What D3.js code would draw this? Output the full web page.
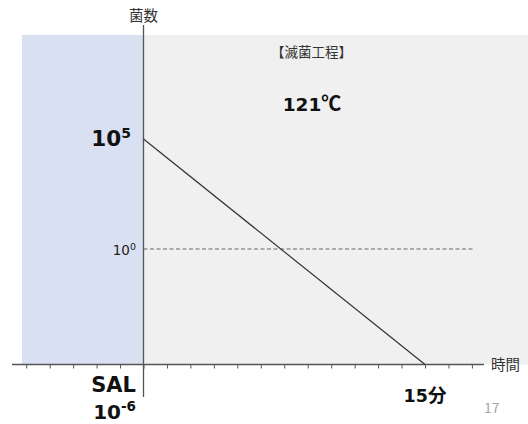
<!DOCTYPE html>
<html><head><meta charset="utf-8">
<script src="https://cdn.jsdelivr.net/npm/d3@7"></script>
<style>
html,body{margin:0;padding:0;background:#fff;}
svg{display:block;font-family:"Noto Sans CJK JP","Noto Sans",sans-serif;}
.lat{font-family:"DejaVu Sans","Noto Sans CJK JP",sans-serif;}
</style></head>
<body>
<svg id="c" width="528" height="424"></svg>
<script>
// ---- data ----
const timeMin = [0, 15];            // minutes
const bacteriaCount = [1e5, 1e-6];  // count at start / at SAL
const referenceLevel = [1];         // 10^0 dashed line
const xTickValues = d3.range(-5, 15).map(i => i * 1.25);
const yAxisTitle = "菌数";
const xAxisTitle = "時間";
const processTitle = "【滅菌工程】";
const temperature = ["121", "℃"];
const endLabel = ["15", "分"];
const pageNumber = "17";

const svg = d3.select("#c");
const x = d3.scaleLinear().domain([0, 15]).range([143.5, 425]);
const y = d3.scaleLog().domain([1e-6, 1, 1e5]).range([364.5, 249, 139]);

// backgrounds
svg.append("rect").attr("x", 22).attr("y", 35).attr("width", x(0) - 22).attr("height", y(1e-6) - 35).attr("fill", "#d9e0f1");
svg.append("rect").attr("x", x(0)).attr("y", 35).attr("width", 528 - x(0)).attr("height", y(1e-6) - 35).attr("fill", "#f0f0f0");

// x axis
const xAxis = d3.axisBottom(x).tickValues(xTickValues).tickSize(4).tickFormat("");
const gx = svg.append("g").attr("transform", `translate(0,${y(1e-6)})`).call(xAxis);
gx.select(".domain").remove();
gx.selectAll(".tick line").attr("stroke", "#555").attr("stroke-width", 1);
svg.append("line").attr("x1", 12).attr("x2", 484).attr("y1", y(1e-6)).attr("y2", y(1e-6))
  .attr("stroke", "#555").attr("stroke-width", 1.3);

// y axis
svg.append("line").attr("x1", x(0)).attr("x2", x(0)).attr("y1", 25).attr("y2", 397)
  .attr("stroke", "#555").attr("stroke-width", 1.3);

// reference dashed line
svg.selectAll(".ref").data(referenceLevel).enter().append("line")
  .attr("x1", x(0)).attr("x2", 474).attr("y1", d => y(d)).attr("y2", d => y(d))
  .attr("stroke", "#666").attr("stroke-width", 1).attr("stroke-dasharray", "4,2.5");

// decay line
const pts = timeMin.map((t, i) => [t, bacteriaCount[i]]);
svg.append("path").datum(pts)
  .attr("d", d3.line().x(d => x(d[0])).y(d => y(d[1])))
  .attr("fill", "none").attr("stroke", "#333").attr("stroke-width", 1.2);

// texts
svg.append("text").attr("x", x(0)).attr("y", 21).attr("text-anchor", "middle")
  .attr("font-size", 14.5).attr("fill", "#333").text(yAxisTitle);
svg.append("text").attr("x", 491).attr("y", y(1e-6) + 5).attr("font-size", 14.5).attr("fill", "#333").text(xAxisTitle);
svg.append("text").attr("x", 311.5).attr("y", 57).attr("text-anchor", "middle")
  .attr("font-size", 13.5).attr("fill", "#333").text(processTitle);
const tt = svg.append("text").attr("x", 312).attr("y", 111).attr("text-anchor", "middle")
  .attr("font-weight", "bold").attr("fill", "#111");
tt.append("tspan").attr("class", "lat").attr("font-size", 18.5).text(temperature[0]);
tt.append("tspan").attr("font-size", 20).text(temperature[1]);

// 10^5
const t5 = svg.append("text").attr("class", "lat").attr("x", 131).attr("y", y(1e5) + 7).attr("text-anchor", "end")
  .attr("font-size", 21.5).attr("font-weight", "bold").attr("fill", "#111");
t5.append("tspan").text("10");
t5.append("tspan").attr("font-size", 14).attr("dy", -8).text("5");

// 10^0
const t0 = svg.append("text").attr("class", "lat").attr("x", 136).attr("y", y(1) + 6).attr("text-anchor", "end")
  .attr("font-size", 13.5).attr("fill", "#222");
t0.append("tspan").text("10");
t0.append("tspan").attr("font-size", 9.5).attr("dy", -5).text("0");

// SAL 10^-6
svg.append("text").attr("class", "lat").attr("x", 136).attr("y", 392).attr("text-anchor", "end")
  .attr("font-size", 21).attr("font-weight", "bold").attr("fill", "#111").text("SAL");
const t6 = svg.append("text").attr("class", "lat").attr("x", 136).attr("y", 419).attr("text-anchor", "end")
  .attr("font-size", 20).attr("font-weight", "bold").attr("fill", "#111");
t6.append("tspan").text("10");
t6.append("tspan").attr("font-size", 13.5).attr("dy", -8).text("-6");

// 15分
const tf = svg.append("text").attr("x", x(15)).attr("y", 402).attr("text-anchor", "middle")
  .attr("font-weight", "bold").attr("fill", "#111");
tf.append("tspan").attr("class", "lat").attr("font-size", 17.5).text(endLabel[0]);
tf.append("tspan").attr("font-size", 18.5).text(endLabel[1]);

// page number
svg.append("text").attr("x", 484).attr("y", 413).attr("font-size", 14).attr("fill", "#a6a6a6").text(pageNumber);
</script>
</body></html>
